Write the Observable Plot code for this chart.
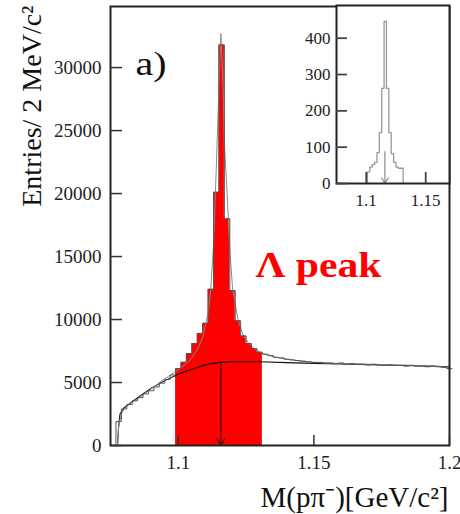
<!DOCTYPE html>
<html><head><meta charset="utf-8">
<script src="https://cdn.jsdelivr.net/npm/d3@7"></script>
<script src="https://cdn.jsdelivr.net/npm/@observablehq/plot@0.6"></script>
<style>
body{margin:0;background:#fff;}
#wrap{position:relative;width:460px;height:514px;}
#wrap svg.inset{position:absolute;left:295px;top:0;}
#wrap svg text{font-family:"Liberation Serif","Times New Roman",serif;}
</style></head><body><div id="wrap"></div>
<script>
// ---- main histogram: 2 MeV bins (left edges) and entries ----
const binEdges = [1.077,1.079,1.081,1.083,1.085,1.087,1.089,1.091,1.093,1.095,1.097,
  1.099,1.101,1.103,1.105,1.107,1.109,1.111,1.113,1.115,1.117,1.119,1.121,1.123,1.125,1.127,1.129,
  1.131,1.133,1.135,1.137,1.139,1.141,1.143,1.145,1.147,1.149,1.151,1.153,1.155,1.157,1.159,
  1.161,1.163,1.165,1.167,1.169,1.171,1.173,1.175,1.177,1.179,1.181,1.183,1.185,1.187,1.189,
  1.191,1.193,1.195,1.197,1.199,1.201];
const binCounts = [1900,2900,3250,3550,3800,4100,4350,4650,4950,5250,5600,
  6100,6600,7300,8100,8900,9700,12400,20100,31800,18000,12300,9900,8700,8100,7700,7400,
  7250,7150,7000,6950,6850,6800,6750,6700,6650,6600,6600,6550,6550,6500,6550,
  6450,6500,6450,6450,6400,6450,6400,6350,6400,6350,6350,6300,6350,6300,6300,
  6250,6300,6250,6200,6100];
// selected Lambda window (red)
const windowLo = 1.099, windowHi = 1.131;
// fit (signal + background)
const fitMass = [1.0776,1.078,1.079,1.080,1.082,1.085,1.090,1.095,1.100,1.104,1.107,1.109,1.111,1.112,1.113,1.114,1.115,1.1157,1.1165,1.117,1.118,1.119,1.120,1.122,1.124,1.126,1.128,1.131,1.135,1.140,1.145,1.150,1.160,1.170,1.180,1.190,1.200];
const fitVals = [0,1500,2500,2900,3300,3700,4500,5300,6000,6700,7600,8600,10500,12500,16000,22000,28500,32700,28500,24000,20000,15500,12500,10000,8700,8100,7700,7300,7050,6850,6700,6600,6500,6450,6400,6350,6200];
// background
const bkgMass = [1.0776,1.078,1.0785,1.080,1.085,1.090,1.095,1.100,1.105,1.110,1.115,1.120,1.130,1.140,1.150,1.160,1.170,1.180,1.190,1.200];
const bkgVals = [0,1500,2500,3000,3800,4550,5150,5650,6050,6400,6600,6650,6650,6580,6520,6470,6420,6370,6320,6250];
const lambdaMass = 1.1157;
const xTicks = [1.1, 1.15, 1.2];
const yTicks = [0, 5000, 10000, 15000, 20000, 25000, 30000];

// ---- inset histogram ----
const insetEdges = [1.101,1.103,1.105,1.107,1.109,1.111,1.113,1.115,1.117,1.119,1.121,1.123,1.125,1.127,1.129,1.131];
const insetCounts = [32,45,52,58,85,140,262,446,262,140,82,58,45,42,42];
const insetArrowTop = 88;
const insetXTicks = [1.1, 1.15];
const insetYTicks = [0, 100, 200, 300, 400];

// ---- tables built from the arrays ----
const bins = binCounts.map((c, i) => ({x1: binEdges[i], x2: binEdges[i + 1], y: c}));
const redBins = bins.filter(b => b.x1 >= windowLo - 1e-9 && b.x2 <= windowHi + 1e-9);
const redSteps = [...redBins.map(b => ({x: b.x1, y: b.y})),
  {x: redBins[redBins.length - 1].x2, y: redBins[redBins.length - 1].y}];
const steps = [{x: binEdges[0], y: 0}, ...bins.map(b => ({x: b.x1, y: b.y})),
  {x: binEdges[binEdges.length - 1], y: binCounts[binCounts.length - 1]}];
const fit = fitMass.map((m, i) => ({x: m, y: fitVals[i]}));
const bkg = bkgMass.map((m, i) => ({x: m, y: bkgVals[i]}));
const bkgAtLambda = 6600;
const insetSteps = [{x: insetEdges[0], y: 0}, ...insetCounts.map((c, i) => ({x: insetEdges[i], y: c})),
  {x: insetEdges[insetEdges.length - 1], y: insetCounts[insetCounts.length - 1]},
  {x: insetEdges[insetEdges.length - 1], y: 0}];

const serif = "Liberation Serif";

const main = Plot.plot({
  width: 460, height: 514,
  marginLeft: 110, marginRight: 11, marginTop: 6, marginBottom: 69,
  x: {domain: [1.075, 1.2]},
  y: {domain: [0, 34850]},
  style: {fontFamily: serif, background: "white", color: "#222"},
  marks: [
    Plot.areaY(redSteps, {x: "x", y: "y", curve: "step-after", fill: "#ff0000"}),
    Plot.line(bkg, {x: "x", y: "y", stroke: "#111", strokeWidth: 1.1}),
    Plot.line(fit, {x: "x", y: "y", stroke: "#8a8a8a", strokeWidth: 1}),
    Plot.line(steps, {x: "x", y: "y", curve: "step-after", stroke: "#555", strokeWidth: 1}),
    Plot.arrow([{x: lambdaMass, y1: bkgAtLambda, y2: 0}], {x: "x", y1: "y1", y2: "y2", stroke: "#111", strokeWidth: 1, headLength: 12}),
    Plot.frame({stroke: "#222", strokeWidth: 2}),
    Plot.axisY({ticks: yTicks, tickSize: -12, tickPadding: 21, tickFormat: d => String(d), fontSize: 19, fontFamily: serif, label: null, stroke: "#333", strokeWidth: 1.5}),
    Plot.axisX({ticks: xTicks, tickSize: -10, tickPadding: 20, tickFormat: d => String(d), fontSize: 19, fontFamily: serif, label: null, stroke: "#333", strokeWidth: 1.5}),
    Plot.text(["a)"], {frameAnchor: "top-left", dx: 25, dy: 44, lineAnchor: "top", textAnchor: "start", fontSize: 34, fontFamily: serif, fill: "#111", className: "lbl-a"}),
    Plot.text(["Λ peak"], {frameAnchor: "top-left", dx: 145, dy: 245, lineAnchor: "top", textAnchor: "start", fontSize: 36, fontWeight: "bold", fontFamily: serif, fill: "#ff0000", className: "lbl-peak"}),
    Plot.text(["M(pπ⁻)[GeV/c²]"], {frameAnchor: "bottom-right", dx: -1, dy: 41, lineAnchor: "top", textAnchor: "end", fontSize: 29, fontFamily: serif, fill: "#111"}),
    Plot.text(["Entries/ 2 MeV/c²"], {frameAnchor: "top-left", dx: -78, dy: -1, rotate: -90, lineAnchor: "middle", textAnchor: "end", fontSize: 28, fontFamily: serif, fill: "#111"})
  ]
});

const inset = Plot.plot({
  width: 165, height: 214,
  marginLeft: 41, marginRight: 11, marginTop: 5, marginBottom: 31,
  x: {domain: [1.075, 1.17]},
  y: {domain: [0, 490]},
  style: {fontFamily: serif, background: "transparent", color: "#222"},
  marks: [
    Plot.frame({fill: "white"}),
    Plot.line(insetSteps, {x: "x", y: "y", curve: "step-after", stroke: "#9a9a9a", strokeWidth: 1.3}),
    Plot.arrow([{x: lambdaMass, y1: insetArrowTop, y2: 0}], {x: "x", y1: "y1", y2: "y2", stroke: "#8a8a8a", strokeWidth: 1.2, headLength: 8}),
    Plot.frame({stroke: "#222", strokeWidth: 2}),
    Plot.axisY({ticks: insetYTicks, tickSize: -11, tickPadding: 17, tickFormat: d => String(d), fontSize: 17, fontFamily: serif, label: null, stroke: "#444", strokeWidth: 1.8}),
    Plot.axisX({ticks: insetXTicks, tickSize: -11, tickPadding: 21, tickFormat: d => String(d), fontSize: 17, fontFamily: serif, label: null, stroke: "#444", strokeWidth: 1.8})
  ]
});
inset.classList.add("inset");

const wrap = document.getElementById("wrap");
wrap.appendChild(main);
wrap.appendChild(inset);

// stretch the two annotations horizontally to the width they have in the reference
main.querySelectorAll(".lbl-peak text, text.lbl-peak").forEach(t => { t.setAttribute("textLength", 126); t.setAttribute("lengthAdjust", "spacingAndGlyphs"); });
main.querySelectorAll(".lbl-a text, text.lbl-a").forEach(t => { t.setAttribute("textLength", 31); t.setAttribute("lengthAdjust", "spacingAndGlyphs"); });
</script></body></html>
